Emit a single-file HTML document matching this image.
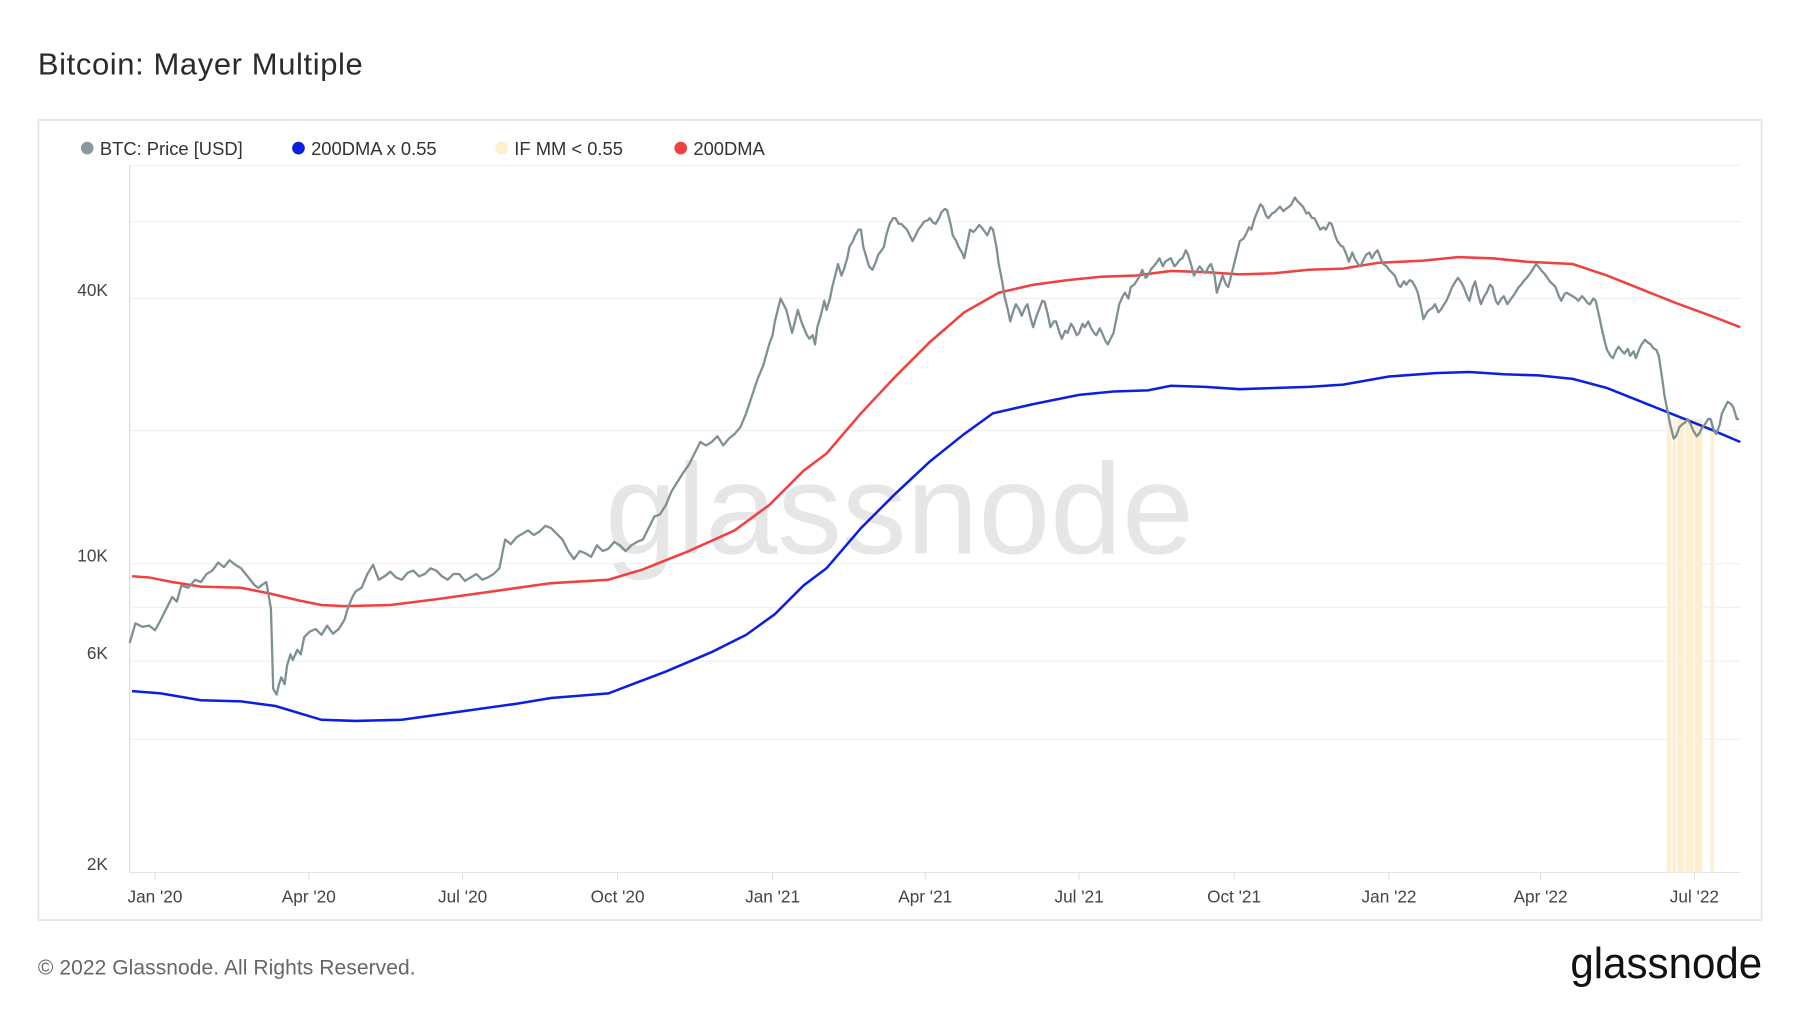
<!DOCTYPE html>
<html><head><meta charset="utf-8"><style>
html,body{margin:0;padding:0;background:#fff;}
svg{display:block;font-family:"Liberation Sans",sans-serif;}
</style></head><body>
<svg width="1800" height="1013" viewBox="0 0 1568 882.4" xmlns="http://www.w3.org/2000/svg">
<rect width="1568" height="883" fill="#fff"/>
<text x="33" y="65" font-size="27" fill="#2b2b2b" textLength="283">Bitcoin: Mayer Multiple</text>
<rect x="33.5" y="104.5" width="1501" height="697" fill="#fff" stroke="#e3e3e3" stroke-width="1.5"/>
<g font-size="16" fill="#333">
<circle cx="76" cy="129" r="5.5" fill="#8a999e"/><text x="87" y="135">BTC: Price [USD]</text>
<circle cx="260" cy="129" r="5.5" fill="#0a1fe0"/><text x="271" y="135">200DMA x 0.55</text>
<circle cx="437" cy="129" r="5.5" fill="#fdefd0"/><text x="448" y="135">IF MM &lt; 0.55</text>
<circle cx="593" cy="129" r="5.5" fill="#f0403f"/><text x="604" y="135">200DMA</text>
</g>
<g stroke="#efefef" stroke-width="1">
<line x1="113" y1="144" x2="1516" y2="144"/>
<line x1="113" y1="193" x2="1516" y2="193"/>
<line x1="113" y1="260" x2="1516" y2="260"/>
<line x1="113" y1="375" x2="1516" y2="375"/>
<line x1="113" y1="491" x2="1516" y2="491"/>
<line x1="113" y1="529" x2="1516" y2="529"/>
<line x1="113" y1="576" x2="1516" y2="576"/>
<line x1="113" y1="644" x2="1516" y2="644"/>
</g>
<line x1="113" y1="144" x2="113" y2="760" stroke="#d8d8d8"/>
<line x1="113" y1="760" x2="1516" y2="760" stroke="#e3e3e3"/>
<g stroke="#e3e3e3">
<line x1="135" y1="760" x2="135" y2="767"/><line x1="269" y1="760" x2="269" y2="767"/><line x1="403" y1="760" x2="403" y2="767"/><line x1="538" y1="760" x2="538" y2="767"/><line x1="673" y1="760" x2="673" y2="767"/><line x1="806" y1="760" x2="806" y2="767"/><line x1="940" y1="760" x2="940" y2="767"/><line x1="1075" y1="760" x2="1075" y2="767"/><line x1="1210" y1="760" x2="1210" y2="767"/><line x1="1342" y1="760" x2="1342" y2="767"/><line x1="1476" y1="760" x2="1476" y2="767"/>
</g>
<g font-size="15" fill="#444" text-anchor="end">
<text x="94" y="258">40K</text><text x="94" y="489">10K</text><text x="94" y="574">6K</text><text x="94" y="758">2K</text>
</g>
<g font-size="15" fill="#444" text-anchor="middle">
<text x="135" y="786">Jan '20</text><text x="269" y="786">Apr '20</text><text x="403" y="786">Jul '20</text><text x="538" y="786">Oct '20</text><text x="673" y="786">Jan '21</text><text x="806" y="786">Apr '21</text><text x="940" y="786">Jul '21</text><text x="1075" y="786">Oct '21</text><text x="1210" y="786">Jan '22</text><text x="1342" y="786">Apr '22</text><text x="1476" y="786">Jul '22</text>
</g>
<text x="527" y="482" font-size="112" fill="#e6e6e6" textLength="513" lengthAdjust="spacingAndGlyphs">glassnode</text>
<g fill="#fdefd0">
<rect x="1452" y="365" width="4" height="395"/><rect x="1457" y="365" width="3" height="395"/><rect x="1461" y="365" width="6" height="395"/><rect x="1468" y="365" width="7" height="395"/><rect x="1476" y="365" width="7" height="395"/><rect x="1490" y="365" width="3" height="395"/>
</g>
<polyline fill="none" stroke="#f0403f" stroke-width="2.2" points="115,502 130,503 150,507 175,511 210,512 235,517 260,523 280,527 300,528 340,527 380,522 430,515 480,508 530,505 560,496 600,480 640,462 670,440 700,410 720,395 750,360 780,328 810,298 840,272 870,255 900,248 930,244 960,241 990,240 1020,236 1050,237 1080,239 1110,238 1140,235 1170,234 1200,229 1240,227 1270,224 1300,225 1330,228 1370,230 1400,240 1430,252 1460,264 1490,275 1516,285"/>
<polyline fill="none" stroke="#0a1fe0" stroke-width="2.2" points="115,602 140,604 175,610 210,611 240,615 280,627 310,628 350,627 400,620 450,613 480,608 530,604 580,585 620,568 650,553 675,535 700,510 720,495 750,460 780,430 810,402 840,378 865,360 900,352 940,344 970,341 1000,340 1020,336 1050,337 1080,339 1110,338 1140,337 1170,335 1210,328 1250,325 1280,324 1310,326 1340,327 1370,330 1400,338 1430,350 1460,362 1490,374 1516,385"/>
<polyline fill="none" stroke="#7f9094" stroke-width="2" stroke-linejoin="round" points="113,560 118,543 124,546 130,545 135,549 140,540 145,530 150,520 154,524 158,510 164,512 170,505 175,507 180,500 185,497 190,490 195,494 200,488 205,492 210,495 214,500 218,505 222,510 225,512 229,509 232,507 236,530 238,600 241,605 243,596 245,590 248,596 250,580 253,570 255,575 259,566 262,570 265,555 270,550 275,548 280,553 285,545 290,552 295,548 300,540 303,530 307,520 310,515 315,512 320,500 325,492 328,500 330,505 335,502 340,498 345,503 350,505 355,499 360,497 365,502 370,500 375,495 380,497 385,502 390,505 395,500 400,500 405,506 410,503 415,500 420,505 425,503 430,500 435,495 440,470 445,474 450,468 455,465 460,462 465,466 470,463 475,458 480,460 485,465 490,470 495,480 500,487 505,480 510,482 515,485 520,475 525,480 530,478 535,472 540,475 545,480 550,475 555,472 560,470 565,460 570,450 575,448 580,440 585,428 590,420 595,412 600,405 605,395 610,385 615,388 620,385 625,380 630,388 635,382 640,378 645,372 650,360 655,345 660,330 665,318 670,300 673,292 675,280 678,268 680,260 685,270 688,282 690,290 693,278 695,270 698,280 700,285 703,292 705,295 708,292 710,300 712,285 715,275 718,262 720,270 723,260 725,250 728,238 730,230 733,240 735,235 738,225 740,215 743,210 745,205 748,200 750,200 752,215 755,225 757,232 760,235 763,228 765,222 768,218 770,215 772,205 775,195 778,190 780,190 783,195 785,195 788,198 790,200 793,206 795,210 798,204 800,200 803,196 805,193 808,192 810,190 813,194 815,195 818,190 820,185 823,182 825,183 828,195 830,205 833,210 835,215 838,220 840,225 843,210 845,200 848,202 850,200 853,196 855,198 858,202 860,205 863,198 865,200 868,215 870,230 873,245 875,258 878,270 880,280 883,270 885,265 888,270 890,275 893,268 895,265 898,278 900,285 903,275 905,270 908,262 910,263 913,275 915,285 918,280 920,280 923,290 925,295 928,288 930,290 933,282 935,285 938,292 940,290 943,282 945,285 948,280 950,285 953,290 955,292 958,286 960,290 963,297 965,300 968,294 970,290 973,275 975,265 978,258 980,255 983,260 985,250 988,248 990,245 993,240 995,235 998,242 1000,240 1003,234 1005,232 1008,228 1010,225 1013,232 1015,228 1018,226 1020,225 1023,232 1025,230 1028,226 1030,225 1033,218 1035,222 1038,232 1040,240 1043,235 1045,232 1048,236 1050,238 1053,232 1055,230 1058,240 1060,255 1063,246 1065,240 1068,248 1070,250 1073,238 1075,230 1078,218 1080,210 1083,208 1085,205 1088,198 1090,200 1093,190 1095,185 1098,178 1100,180 1103,188 1105,190 1108,186 1110,185 1113,182 1115,180 1118,184 1120,182 1123,180 1125,178 1128,172 1130,175 1133,178 1135,180 1138,186 1140,185 1143,190 1145,190 1148,196 1150,200 1153,198 1155,200 1158,194 1160,195 1163,205 1165,210 1168,214 1170,215 1173,222 1175,228 1178,220 1180,225 1183,230 1185,232 1188,226 1190,222 1193,220 1195,225 1198,220 1200,218 1203,226 1205,230 1208,232 1210,235 1213,238 1215,240 1218,248 1220,250 1223,245 1225,248 1228,244 1230,245 1233,250 1235,255 1238,268 1240,278 1243,272 1245,270 1248,268 1250,265 1253,272 1255,270 1258,265 1260,262 1263,255 1265,250 1268,245 1270,242 1273,246 1275,250 1278,258 1280,262 1283,250 1285,245 1288,258 1290,265 1293,258 1295,255 1298,248 1300,250 1303,262 1305,265 1308,260 1310,258 1313,265 1315,262 1318,258 1320,255 1323,250 1325,248 1328,244 1330,242 1333,238 1335,235 1338,230 1340,232 1343,236 1345,238 1348,242 1350,245 1353,248 1355,250 1358,258 1360,262 1363,256 1365,255 1368,257 1370,258 1373,260 1375,262 1378,258 1380,260 1383,264 1385,265 1388,260 1390,262 1393,275 1395,285 1398,298 1400,305 1403,310 1405,312 1408,305 1410,302 1413,306 1415,308 1418,304 1420,310 1423,306 1425,312 1428,304 1430,300 1433,296 1435,298 1438,300 1440,303 1443,305 1445,310 1448,330 1450,345 1453,360 1455,370 1458,382 1460,380 1463,372 1465,370 1468,368 1470,365 1473,370 1475,375 1478,380 1480,378 1483,372 1485,370 1488,365 1490,365 1493,375 1495,378 1498,370 1500,360 1503,354 1505,350 1508,352 1510,355 1513,365 1515,365"/>
<text x="33" y="849" font-size="18.3" fill="#666" textLength="329">© 2022 Glassnode. All Rights Reserved.</text>
<text x="1368" y="852" font-size="38" fill="#111" textLength="167" lengthAdjust="spacingAndGlyphs">glassnode</text>
</svg>
</body></html>
